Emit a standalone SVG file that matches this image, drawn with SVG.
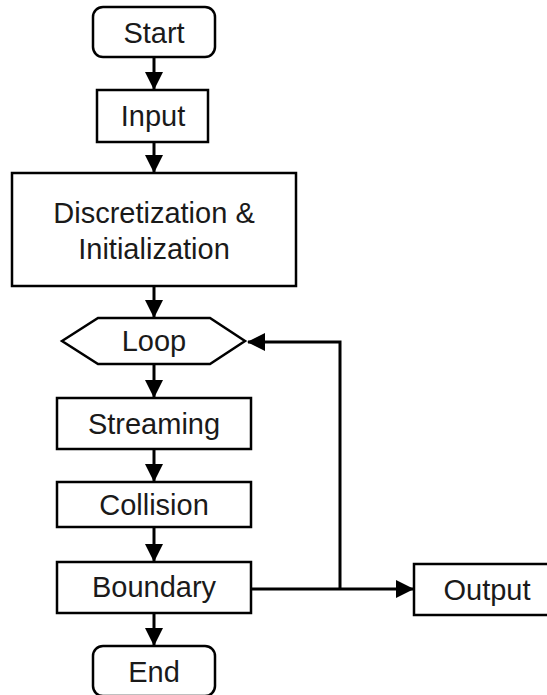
<svg xmlns="http://www.w3.org/2000/svg" width="547" height="695" viewBox="0 0 547 695">
<style>
.box{fill:#fff;stroke:#000;stroke-width:2.5}
.t{font-family:"Liberation Sans",Arial,sans-serif;font-size:29px;fill:#1a1a1a;text-anchor:middle}
.c{fill:none;stroke:#000;stroke-width:3}
</style>
<defs>
<marker id="ah" markerUnits="userSpaceOnUse" markerWidth="18" markerHeight="18" viewBox="0 0 18 18" refX="17" refY="9" orient="auto">
<path d="M0,0 L18,9 L0,18 Z" fill="#000"/>
</marker>
</defs>
<rect width="547" height="695" fill="#fff"/>
<g id="connectors">
<line class="c" x1="154" y1="57" x2="154" y2="89" marker-end="url(#ah)"/>
<line class="c" x1="154" y1="142" x2="154" y2="172" marker-end="url(#ah)"/>
<line class="c" x1="154" y1="286" x2="154" y2="317" marker-end="url(#ah)"/>
<line class="c" x1="154" y1="364" x2="154" y2="397" marker-end="url(#ah)"/>
<line class="c" x1="154" y1="449" x2="154" y2="481" marker-end="url(#ah)"/>
<line class="c" x1="154" y1="527" x2="154" y2="561" marker-end="url(#ah)"/>
<line class="c" x1="154" y1="613" x2="154" y2="645" marker-end="url(#ah)"/>
<line class="c" x1="251" y1="589" x2="413" y2="589" marker-end="url(#ah)"/>
<polyline class="c" points="340,589 340,342 248,342" marker-end="url(#ah)"/>
</g>
<g id="start"><rect class="box" x="93" y="7" width="122" height="50" rx="10"/><text class="t" x="154" y="43">Start</text></g>
<g id="input"><rect class="box" x="97" y="90" width="111" height="52"/><text class="t" x="153" y="126">Input</text></g>
<g id="disc"><rect class="box" x="12" y="173" width="284" height="113"/><text class="t" x="154" y="223">Discretization &amp;</text><text class="t" x="154" y="259">Initialization</text></g>
<g id="loop"><polygon class="box" points="62,341 98,318 210,318 245,341 210,364 98,364"/><text class="t" x="154" y="351">Loop</text></g>
<g id="streaming"><rect class="box" x="57" y="398" width="194" height="51"/><text class="t" x="154" y="434">Streaming</text></g>
<g id="collision"><rect class="box" x="57" y="482" width="194" height="45"/><text class="t" x="154" y="515">Collision</text></g>
<g id="boundary"><rect class="box" x="57" y="562" width="194" height="51"/><text class="t" x="154" y="597">Boundary</text></g>
<g id="end"><rect class="box" x="93" y="646" width="122" height="50" rx="10"/><text class="t" x="154" y="682">End</text></g>
<g id="output"><rect class="box" x="414" y="564" width="150" height="51"/><text class="t" x="487" y="600">Output</text></g>
</svg>
